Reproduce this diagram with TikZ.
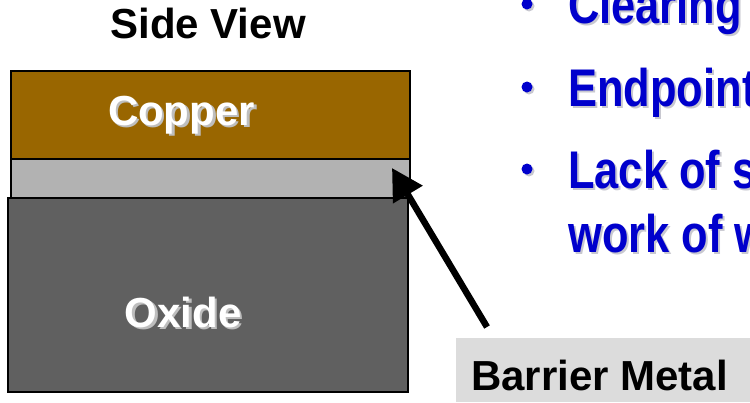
\documentclass[tikz,border=0pt]{standalone}
\usepackage{fontspec}
\setmainfont{Liberation Sans}
\newfontfamily\narrowfont[FakeStretch=0.82]{Liberation Sans}
\usetikzlibrary{arrows.meta}
\definecolor{copperc}{HTML}{996600}
\definecolor{barrierc}{HTML}{B2B2B2}
\definecolor{oxidec}{HTML}{606060}
\definecolor{boxc}{HTML}{DCDCDC}
\definecolor{bluec}{HTML}{0000CC}
\definecolor{shadowc}{HTML}{BEBEBE}
\definecolor{bshadowc}{HTML}{C8C8D0}
\tikzset{
  layer/.style={draw=black, line width=1.5pt},
  big/.style={font=\bfseries\fontsize{42}{48}\selectfont, inner sep=0pt, anchor=base},
  bul/.style={font=\narrowfont\bfseries\fontsize{53}{60}\selectfont, inner sep=0pt, anchor=base west, text=bluec},
  bulsh/.style={font=\narrowfont\bfseries\fontsize{53}{60}\selectfont, inner sep=0pt, anchor=base west, text=bshadowc},
  dot/.style={circle, fill=bluec, inner sep=0pt, minimum size=11pt},
  dotsh/.style={circle, fill=bshadowc, inner sep=0pt, minimum size=11pt}
}
\begin{document}
\begin{tikzpicture}[x=1pt, y=-1pt]
\useasboundingbox (0,0) rectangle (750,402);
\clip (0,0) rectangle (750,402);
% title
\node[big, text=black] (title) at (208,38) {Side View};
% layers
\filldraw[layer, fill=copperc] (11,71) rectangle (410,159);
\filldraw[layer, fill=barrierc] (11,159) rectangle (410,198);
\filldraw[layer, fill=oxidec] (8,198) rectangle (408,392);
% labels with shadow
\node[big, text=shadowc] at (184,127.5) {Copper};
\node[big, text=white] (copper) at (181.5,125) {Copper};
\node[big, text=shadowc] at (185.5,329.5) {Oxide};
\node[big, text=white] (oxide) at (183,327) {Oxide};
% barrier metal box
\fill[boxc] (456,338) rectangle (750,402);
\node[big, anchor=base west, text=black] (bm) at (471,390) {Barrier Metal};
% arrow
\coordinate (tail) at (487,327);
\coordinate (tip) at (392,168);
\draw[line width=6.5pt, -{Triangle[length=31pt,width=33pt]}] (tail) -- (tip);
% bullets
\foreach \y/\t [count=\i] in {23/Clearing, 106/Endpoint, 188/Lack of s} {
  \node[dotsh] at (529,\y-17) {};
  \node[dot] (d\i) at (527,\y-19) {};
  \node[bulsh] at (570,\y+2) {\t};
  \node[bul] (b\i) at (568,\y) {\t};
}
\node[bulsh] at (570,254) {work of w};
\node[bul] (b4) at (568,252) {work of w};
\end{tikzpicture}
\end{document}
